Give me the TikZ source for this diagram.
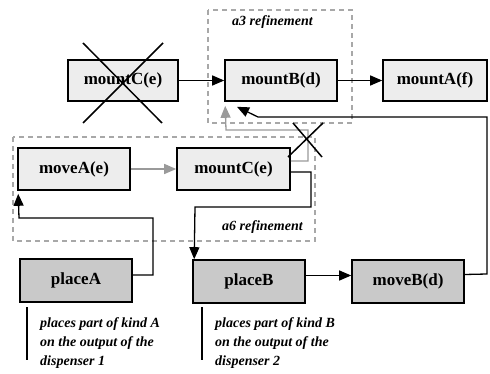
\documentclass[tikz,border=0pt]{standalone}
\usepackage{fontspec}
\setmainfont{Liberation Serif}
\usetikzlibrary{arrows.meta}
\definecolor{boxlight}{HTML}{EDEDED}
\definecolor{boxdark}{HTML}{C9C9C9}
\definecolor{dashgray}{HTML}{A8A8A8}
\definecolor{linkgray}{HTML}{9A9A9A}
\tikzset{
  actbox/.style={draw=black, line width=1.6pt, fill=boxlight, inner sep=0pt,
    font=\bfseries\fontsize{17}{20}\selectfont},
  lightbox/.style={actbox, fill=boxlight},
  darkbox/.style={actbox, fill=boxdark},
  link/.style={draw=black, line width=1.3pt,
    -{Triangle[length=12pt,width=10pt]}},
  graylink/.style={draw=linkgray, line width=1.3pt,
    -{Triangle[length=12pt,width=10pt]}},
  refine/.style={draw=dashgray, line width=1.2pt, dash pattern=on 5pt off 4pt},
  reflabel/.style={font=\bfseries\itshape\fontsize{14}{16}\selectfont, inner sep=0pt, anchor=west},
  note/.style={font=\bfseries\itshape\fontsize{14}{19}\selectfont, inner sep=0pt,
    align=left, anchor=north west},
  strike/.style={draw=black, line width=1.5pt},
}
\begin{document}
\begin{tikzpicture}[x=1pt, y=-1pt]
\useasboundingbox (0,0) rectangle (490,374);

% refinement regions
\draw[refine] (208,10) rectangle (352,123);
\draw[refine] (13,137) rectangle (315,241);
\node[reflabel] (a3lbl) at (232,22) {a3 refinement};
\node[reflabel] (a6lbl) at (222,227) {a6 refinement};

% activities
\node[lightbox, minimum width=110pt, minimum height=41pt] (mC1) at (123,80.5) {mountC(e)};
\node[lightbox, minimum width=112pt, minimum height=41pt] (mB) at (281,80.5) {mountB(d)};
\node[lightbox, minimum width=104pt, minimum height=41pt] (mA) at (435,80.5) {mountA(f)};
\node[lightbox, minimum width=112pt, minimum height=42pt] (vA) at (74,169) {moveA(e)};
\node[lightbox, minimum width=113pt, minimum height=42pt] (mC2) at (233.5,169) {mountC(e)};
\node[darkbox, minimum width=112pt, minimum height=43pt] (pA) at (76,280.5) {placeA};
\node[darkbox, minimum width=112pt, minimum height=43pt] (pB) at (249,281.5) {placeB};
\node[darkbox, minimum width=112pt, minimum height=43pt] (vB) at (408,281.5) {moveB(d)};

% connectors
\draw[link] (mC1.east) -- (mB.west);
\draw[link] (mB.east) -- (mA.west);
\draw[graylink] (vA.east) -- (mC2.west);
\draw[graylink] ([yshift=8pt]mC2.east) -- (308,161) -- (308,130) -- (226,130) -- ([xshift=1pt,yshift=-4pt]mB.south west);
\draw[link] ([yshift=7pt]vB.east) -- (487,274) -- (487,117) -- (258,117) -- ([xshift=-44pt,yshift=-5pt]mB.south);
\draw[link] ([yshift=-3pt]mC2.east) -- (311,172) -- (311,207) -- (195,207) -- ([xshift=2pt]pB.north west);
\draw[link] ([yshift=5.5pt]pA.east) -- (153,275) -- (153,218) -- (19,218) -- ([xshift=1pt,yshift=-3pt]vA.south west);
\draw[link] ([yshift=6pt]pB.east) -- ([yshift=6pt]vB.west);

% withdrawn elements
\draw[strike] (83,43) -- (162,123);
\draw[strike] (163,43) -- (83,123);
\draw[strike] (288,157) -- (323,123);
\draw[strike] (293,123) -- (322,157);

% comments on the placing activities
\draw[line width=1.2pt] (27,307) -- (27,360);
\node[note] (noteA) at (40,317) {places part of kind A\\on the output of the\\dispenser 1};
\draw[line width=1.2pt] (202,307) -- (202,360);
\node[note] (noteB) at (215,317) {places part of kind B\\on the output of the\\dispenser 2};
\end{tikzpicture}
\end{document}
